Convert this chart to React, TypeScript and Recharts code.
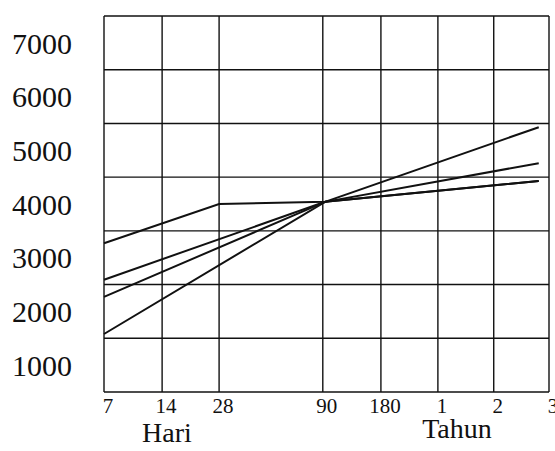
import { Line, LineChart, ReferenceLine, XAxis, YAxis } from 'recharts'

// axis positions of the (non uniform) time scale, in grid units
const xTickLabels = ['7', '14', '28', '90', '180', '1', '2', '3']
const xTickPos = [0, 1.02, 2.02, 3.84, 4.86, 5.86, 6.84, 7.81]

const yTicks = [1000, 2000, 3000, 4000, 5000, 6000, 7000]
const yGrid = [500, 1500, 2500, 3500, 4500, 5500, 6500, 7500]

// points along the time scale where the curves were read
const pointX = [0, 2.02, 3.88, 7.63]
const lineA = [3270, 4000, 4040, 4430]
const lineB = [2590, null, 4040, 4430]
const lineC = [2270, null, 4040, 4760]
const lineD = [1580, null, 4040, 5430]

const data = pointX.map((x, i) => ({
  x,
  a: lineA[i],
  b: lineB[i],
  c: lineC[i],
  d: lineD[i],
}))

const serif = "'Liberation Serif', 'Times New Roman', serif"
const ink = '#111111'

const labelStyle = {
  position: 'absolute' as const,
  fontFamily: serif,
  fontSize: 28,
  lineHeight: '22px',
  color: ink,
  transform: 'translateX(-50%)',
  whiteSpace: 'nowrap' as const,
}

export default function App() {
  return (
    <div style={{ position: 'absolute', left: 0, top: 0, width: 555, height: 451, background: '#fff' }}>
      <LineChart
        width={555}
        height={451}
        data={data}
        margin={{ top: 16, right: 6, bottom: 29, left: 0 }}
      >
        {yGrid.map((v) => (
          <ReferenceLine key={'h' + v} y={v} stroke={ink} strokeWidth={1.4} />
        ))}
        {xTickPos.map((v) => (
          <ReferenceLine key={'v' + v} x={v} stroke={ink} strokeWidth={1.4} />
        ))}
        <XAxis
          type='number'
          dataKey='x'
          domain={[0, 7.81]}
          ticks={xTickPos}
          tickFormatter={(v) => xTickLabels[xTickPos.indexOf(v)] ?? ''}
          interval={0}
          height={30}
          axisLine={false}
          tickLine={false}
          tickMargin={0}
          tick={{ fill: ink, fontSize: 21, fontFamily: serif, dx: 4 }}
        />
        <YAxis
          type='number'
          domain={[500, 7500]}
          ticks={yTicks}
          interval={0}
          width={104}
          axisLine={false}
          tickLine={false}
          tickMargin={26}
          tick={{ fill: ink, fontSize: 30, fontFamily: serif }}
        />
        <Line type='linear' dataKey='a' stroke={ink} strokeWidth={2} dot={false} connectNulls isAnimationActive={false} />
        <Line type='linear' dataKey='b' stroke={ink} strokeWidth={2} dot={false} connectNulls isAnimationActive={false} />
        <Line type='linear' dataKey='c' stroke={ink} strokeWidth={2} dot={false} connectNulls isAnimationActive={false} />
        <Line type='linear' dataKey='d' stroke={ink} strokeWidth={2} dot={false} connectNulls isAnimationActive={false} />
      </LineChart>
      <div style={{ ...labelStyle, left: 167, top: 422 }}>Hari</div>
      <div style={{ ...labelStyle, left: 457, top: 418 }}>Tahun</div>
    </div>
  )
}
